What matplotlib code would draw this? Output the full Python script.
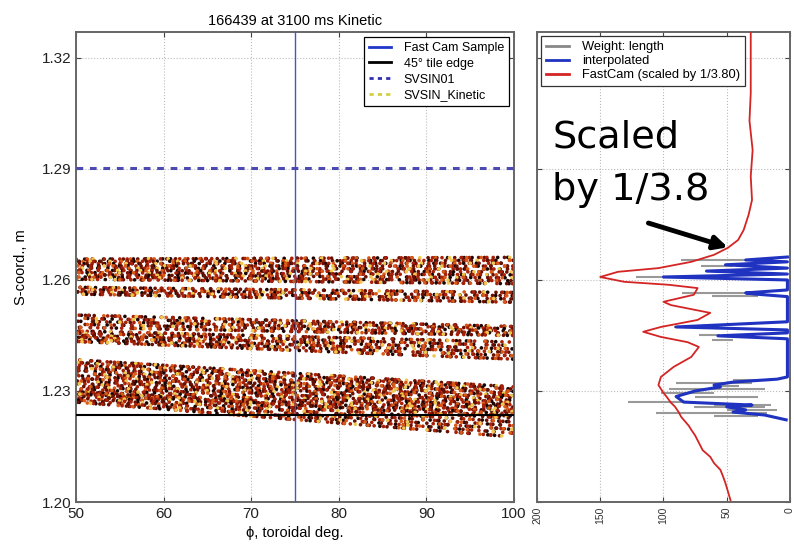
import numpy as np
import matplotlib.pyplot as plt
from matplotlib.lines import Line2D

plt.rcParams['font.family'] = ['Liberation Sans', 'DejaVu Sans']

# strike bands on the tile: edges (top/bottom) at phi = 50 and phi = 100
band_top_left = [1.2656, 1.2580, 1.2505, 1.2462, 1.2384, 1.2298]
band_bot_left = [1.2602, 1.2562, 1.2472, 1.2434, 1.2292, 1.2270]
band_top_right = [1.2661, 1.2566, 1.2474, 1.2432, 1.2311, 1.2226]
band_bot_right = [1.2590, 1.2540, 1.2450, 1.2386, 1.2232, 1.2176]
phi_range = [50, 100]

fastcam_phi = 75.0
tile_edge_s = 1.2235
svsin01_s = 1.2903

# FastCam profile (scaled by 1/3.8)
cam_val = [31, 31, 32, 29.5, 31, 30, 32.7, 36.6, 41, 49, 60, 78, 104, 136, 150, 131, 96, 73, 76,
           100, 94, 63, 73, 102, 116, 102, 81, 72, 78, 92, 102, 104, 100, 97, 94, 91, 88, 86,
           83, 80, 78, 75, 72, 69, 63, 60, 55, 53, 51, 47]
cam_s = [1.3270, 1.3105, 1.3030, 1.2951, 1.2880, 1.2816, 1.2776, 1.2735, 1.2708, 1.2687, 1.2668,
         1.2649, 1.2632, 1.2622, 1.2608, 1.2595, 1.2587, 1.2578, 1.2560, 1.2541, 1.2532, 1.2511,
         1.2492, 1.2473, 1.2460, 1.2446, 1.2432, 1.2419, 1.2392, 1.2365, 1.2338, 1.2316, 1.2295,
         1.2282, 1.2268, 1.2258, 1.2243, 1.2230, 1.2218, 1.2206, 1.2195, 1.2180, 1.2160, 1.2140,
         1.2122, 1.2105, 1.2087, 1.2070, 1.2051, 1.2005]

# interpolated weight profile
interp_val = [2, 35, 2, 51, 2, 66, 2, 100, 2, 2, 35, 28, 2, 2, 90, 2, 2, 57, 2, 2, 10, 45, 60,
              55, 75, 90, 84, 30, 50, 35, 45, 20, 3]
interp_s = [1.2662, 1.2654, 1.2649, 1.2641, 1.2632, 1.2624, 1.2616, 1.2608, 1.2600, 1.2573,
            1.2565, 1.2562, 1.2555, 1.2487, 1.2473, 1.2465, 1.2457, 1.2449, 1.2441, 1.2338,
            1.2332, 1.2324, 1.2316, 1.2311, 1.2300, 1.2285, 1.2270, 1.2262, 1.2257, 1.2249,
            1.2243, 1.2235, 1.2222]

# raw weight (length) segments
weight_s = [1.2654, 1.2638, 1.2608, 1.2565, 1.2557, 1.2473, 1.2451, 1.2438, 1.2330, 1.2322,
            1.2314, 1.2305, 1.2295, 1.2285, 1.2270, 1.2262, 1.2257, 1.2249, 1.2240, 1.2233]
weight_lo = [35, 45, 95, 30, 25, 75, 55, 45, 15, 30, 40, 20, 60, 25, 80, 15, 20, 10, 18, 25]
weight_hi = [86, 70, 122, 85, 62, 92, 72, 62, 45, 90, 60, 96, 102, 75, 128, 60, 76, 50, 106, 60]

# dot colours and how sparse each colour is along a row
dot_colors = ['#1a0500', '#6b0f00', '#a82008', '#d85a18', '#f0c850']
dot_sparse = [0.75, 0.65, 0.7, 1.4, 2.2]
gap_seq = [3.1, 6.7, 2.4, 8.2, 4.5, 5.9, 2.8, 9.1, 3.6, 7.3]

fig = plt.figure(figsize=(7.94, 5.49), dpi=100)
ax = fig.add_axes([0.0957, 0.0856, 0.5516, 0.8561])
ax2 = fig.add_axes([0.6763, 0.0856, 0.3186, 0.8561])

# bands drawn as rows of coloured dots with irregular spacing
ng = len(gap_seq)
for k in range(len(band_top_left)):
    thick = ((band_top_left[k] - band_bot_left[k]) + (band_top_right[k] - band_bot_right[k])) / 2
    n = max(3, int(round(thick / 0.0006)))
    y_l = np.linspace(band_top_left[k], band_bot_left[k], n)
    y_r = np.linspace(band_top_right[k], band_bot_right[k], n)
    for j in range(n):
        for c in range(len(dot_colors)):
            r = (j * 3 + c * 7 + k * 5) % ng
            gaps = gap_seq[r:] + gap_seq[:r]
            dashes = []
            for g in gaps:
                dashes += [0.001, g * dot_sparse[c]]
            phase = ((j * 0.618 + c * 0.414 + k * 0.271) % 1) * 40
            ax.plot(phi_range, [y_l[j], y_r[j]], color=dot_colors[c], lw=2.7,
                    linestyle=(phase, tuple(dashes)), dash_capstyle='round', zorder=2)

ax.axvline(fastcam_phi, color='#5050c0', lw=1.0, zorder=4)
ax.axhline(tile_edge_s, color='k', lw=1.5, zorder=4)
ax.axhline(svsin01_s, color='#4a4ab0', lw=2.2, linestyle=(0, (2.2, 2.2)), zorder=4)

ax.set_xlim(50, 100)
ax.set_ylim(1.20, 1.327)
ax.set_xticks([50, 60, 70, 80, 90, 100])
ax.set_yticks([1.20, 1.23, 1.26, 1.29, 1.32])
ax.set_yticklabels(['1.20', '1.23', '1.26', '1.29', '1.32'])
ax.tick_params(labelsize=11, direction='in', top=True, right=True, colors='#444444',
               labelcolor='#222222')
ax.grid(True, color='#bbbbbb', linestyle=':', lw=0.8)
ax.set_title('166439 at 3100 ms Kinetic', fontsize=10.5, pad=5)
ax.set_xlabel('ϕ, toroidal deg.', fontsize=10.5)
ax.set_ylabel('S-coord., m', fontsize=10.5, labelpad=10)
for sp in ax.spines.values():
    sp.set_color('#666666')
    sp.set_linewidth(1.4)

handles = [Line2D([], [], color='#2038c8', lw=2),
           Line2D([], [], color='k', lw=2),
           Line2D([], [], color='#3030b0', lw=2, linestyle=(0, (1.5, 1.5))),
           Line2D([], [], color='#d0d040', lw=2, linestyle=(0, (1.5, 1.5)))]
leg = ax.legend(handles, ['Fast Cam Sample', '45° tile edge', 'SVSIN01', 'SVSIN_Kinetic'],
                loc='upper right', fontsize=9, fancybox=False, edgecolor='k',
                framealpha=1, borderaxespad=0.4, handlelength=1.8, handletextpad=1.0,
                labelspacing=0.3)
leg.get_frame().set_linewidth(0.9)

# right panel: profiles
ax2.hlines(weight_s, weight_lo, weight_hi, color='#999999', lw=1.5, zorder=2)
ax2.plot(interp_val, interp_s, color='#1f32c0', lw=2.2, zorder=3)
ax2.plot(cam_val, cam_s, color='#d42424', lw=1.3, zorder=4)

ax2.set_xlim(200, 0)
ax2.set_ylim(1.20, 1.327)
ax2.set_xticks([200, 150, 100, 50, 0])
ax2.set_yticks([1.20, 1.23, 1.26, 1.29, 1.32])
ax2.set_yticklabels([])
ax2.tick_params(axis='x', labelsize=7.5, labelrotation=90)
ax2.tick_params(direction='in', top=True, right=True, colors='#444444', labelcolor='#333333')
ax2.grid(True, color='#bbbbbb', linestyle=':', lw=0.8)
for sp in ax2.spines.values():
    sp.set_color('#666666')
    sp.set_linewidth(1.4)

h2 = [Line2D([], [], color='#888888', lw=2),
      Line2D([], [], color='#1f32c0', lw=2),
      Line2D([], [], color='#d42424', lw=2)]
leg2 = ax2.legend(h2, ['Weight: length', 'interpolated', 'FastCam (scaled by 1/3.80)'],
                  loc='upper left', fontsize=9.3, fancybox=False, edgecolor='#333333',
                  framealpha=1, borderaxespad=0.3, handlelength=1.8, handletextpad=1.0,
                  labelspacing=0.15)
leg2.get_frame().set_linewidth(0.9)

ax2.text(188, 1.2957, 'Scaled', fontsize=27.5, family=['DejaVu Sans'], va='baseline', zorder=6)
ax2.text(188, 1.2816, 'by 1/3.8', fontsize=27.5, family=['DejaVu Sans'], va='baseline', zorder=6)
ax2.annotate('', xy=(47, 1.2686), xytext=(114, 1.2756),
             arrowprops=dict(arrowstyle='-|>', lw=3.5, color='k', mutation_scale=20), zorder=6)

fig.savefig('out.png', dpi=100)
